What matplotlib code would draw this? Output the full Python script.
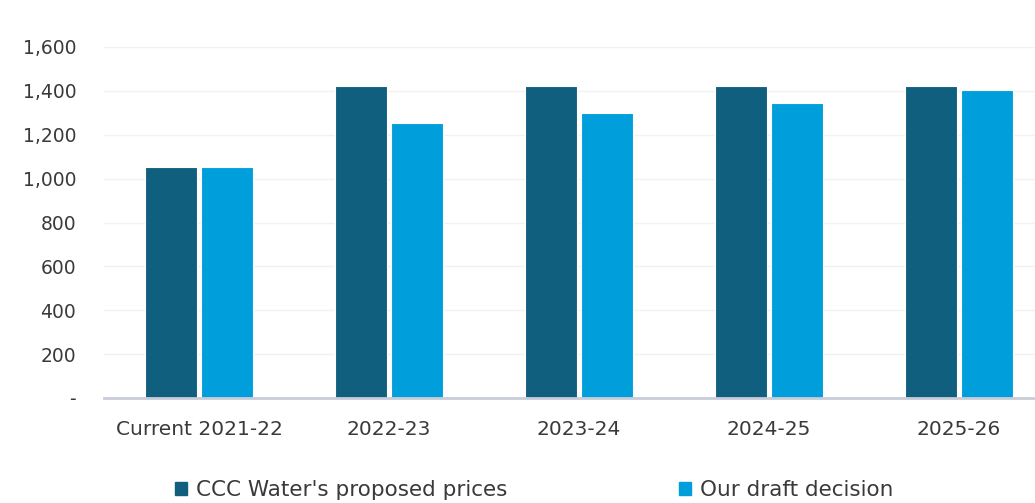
import matplotlib as mpl
mpl.use('agg')
import matplotlib.pyplot as plt
from matplotlib.patches import Patch
import numpy as np

# data
categories = ['Current 2021-22', '2022-23', '2023-24', '2024-25', '2025-26']
ccc_proposed = [1053, 1423, 1423, 1423, 1423]
draft_decision = [1053, 1252, 1297, 1347, 1402]
series_names = ["CCC Water's proposed prices", 'Our draft decision']

dark = '#105f7e'
light = '#009edb'
txt = '#3a3a3a'

plt.rcParams['font.family'] = ['DejaVu Sans']

W, H = 1035, 503
fig = plt.figure(figsize=(W/100, H/100), dpi=100)
ax = fig.add_axes([104/W, (H-398)/H, 950/W, 351/H])

x = np.arange(len(categories))
bw = 0.274
ax.bar(x - 0.145, ccc_proposed, bw, color=dark, edgecolor='white', linewidth=0.8, zorder=3)
ax.bar(x + 0.145, draft_decision, bw, color=light, edgecolor='white', linewidth=0.8, zorder=3)

ax.set_xlim(-0.5, len(categories) - 0.5)
ax.set_ylim(0, 1600)
ax.set_yticks(range(0, 1601, 200))
ax.set_yticklabels(['-' if v == 0 else f'{v:,}' for v in range(0, 1601, 200)])
ax.set_xticks(x)
ax.set_xticklabels(categories)
ax.tick_params(axis='both', length=0, labelsize=13.5, colors=txt)
ax.tick_params(axis='x', labelsize=14.5)
ax.tick_params(axis='y', pad=20)
ax.tick_params(axis='x', pad=16)

ax.grid(axis='y', color='#f2f2f2', linewidth=1, zorder=0)
for s in ['top', 'right', 'left']:
    ax.spines[s].set_visible(False)
ax.spines['bottom'].set_color('#c8ccd8')
ax.spines['bottom'].set_linewidth(2)
ax.spines['bottom'].set_zorder(4)

handles = [Patch(color=dark), Patch(color=light)]
fig.legend(handles, series_names, loc='center', bbox_to_anchor=(534/W, 1 - 490/H),
           ncol=2, frameon=False, fontsize=15.5, labelcolor=txt,
           handlelength=0.55, handleheight=0.55, handletextpad=0.4, columnspacing=8.0)

fig.savefig('out.png', dpi=100)
